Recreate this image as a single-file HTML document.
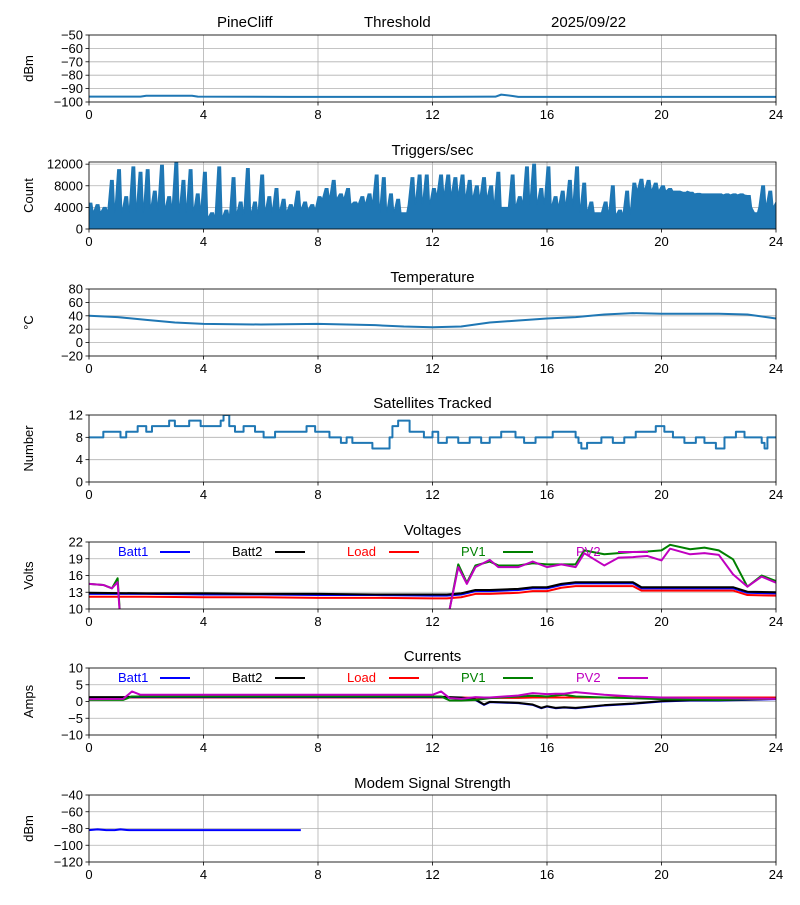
<!DOCTYPE html>
<html><head><meta charset="utf-8"><style>
body{margin:0;background:#fff;}
svg text{font-family:"Liberation Sans","DejaVu Sans",sans-serif;}
</style></head><body>
<svg id="c" width="800" height="900" xmlns="http://www.w3.org/2000/svg">
<text x="217" y="27" font-size="15">PineCliff</text>
<text x="364" y="27" font-size="15">Threshold</text>
<text x="551" y="27" font-size="15">2025/09/22</text>
</svg>
<script>
const xTicks=[0,4,8,12,16,20,24];
// Threshold
const thrT=[0,1.8,2.0,3.6,3.8,7,12,14.2,14.4,14.8,15,24];
const thrV=[-96,-96,-95.3,-95.3,-96,-96.2,-96.2,-96,-94.5,-95.5,-96.2,-96.2];
// Triggers (peak per 15 min, base per hour)
const trigPeak=[4800,4500,4000,9000,11000,6000,11500,10500,11000,7000,11800,6000,12300,9000,11000,6500,10500,3000,11500,3500,9500,5000,11200,5000,10000,6000,7500,5500,4500,7000,5000,4500,6000,7500,9000,6500,7500,5000,6000,6500,10000,9500,6500,5500,3000,9500,10000,10000,7500,10000,10000,9500,10000,9000,8000,9500,8000,10500,4000,10000,6000,11500,12000,7500,11500,6000,7000,9000,11500,8500,5000,3000,5000,8000,3500,7000,8500,9200,9000,8500,8000,7500,7000,6800,6800,6600,6500,6500,6500,6500,6500,6500,6200,3000,8000,7000,5000];
const trigBase=[3000,3000,3500,3000,2000,2500,3000,3500,5500,4500,3000,4500,6000,5500,4000,4500,4000,3000,2500,7000,7000,6500,6300,4000,4000];
// Temperature
const tempT=[0,1,2,3,4,6,8,9,10,11,12,13,14,15,16,17,18,19,20,22,23,24];
const tempV=[40,38,34,30,28,27,28,27,26,24,23,24,30,33,36,38,42,44,43,43,42,36];
// Satellites (step)
const satT=[0,0.5,1.1,1.3,1.7,2.0,2.2,2.8,3.0,3.5,3.9,4.6,4.7,4.9,5.1,5.4,5.8,6.1,6.5,7.6,7.9,8.4,8.8,9,9.2,9.9,10.5,10.6,10.8,11.2,11.7,12.0,12.2,12.5,12.9,13.3,13.7,14.0,14.4,14.9,15.2,15.6,16.2,17.0,17.1,17.2,17.4,17.9,18.3,18.7,19.1,19.8,20.1,20.4,20.8,21.2,21.5,21.9,22.2,22.6,22.9,23.5,23.6,23.7,24];
const satV=[8,9,8,9,10,9,10,11,10,11,10,11,12,10,9,10,9,8,9,10,9,8,7,8,7,6,8,10,11,9,8,9,7,8,7,8,7,8,9,8,7,8,9,8,7,6,7,8,7,8,9,10,9,8,7,8,7,6,8,9,8,7,6,8,8];
// Voltages
const vbT=[0,2,4,6,8,10,12,12.5,13,13.5,14,15,15.5,16,16.5,17,18,19,19.3,20,22,22.5,23,24];
const batt1V=[12.7,12.7,12.6,12.6,12.5,12.5,12.4,12.4,12.6,13.2,13.2,13.4,13.7,13.7,14.3,14.6,14.6,14.6,13.7,13.7,13.7,13.7,12.9,12.8];
const batt2V=[12.9,12.8,12.8,12.7,12.7,12.6,12.6,12.6,12.8,13.4,13.4,13.6,13.9,13.9,14.5,14.8,14.8,14.8,13.9,13.9,13.9,13.9,13.1,13.0];
const loadV=[12.2,12.2,12.1,12.1,12.0,12.0,11.9,11.9,12.1,12.7,12.7,12.9,13.2,13.2,13.8,14.1,14.1,14.1,13.3,13.3,13.3,13.3,12.5,12.4];
const pvT=[0,0.5,0.8,1.0,1.2,12.3,12.6,12.9,13.2,13.5,14,14.3,15,15.5,16,16.5,17,17.3,18,18.5,19,19.5,20,20.3,21,21.5,22,22.5,23,23.5,24];
const pv1V=[14.5,14.3,13.7,15.5,0,0,10,18,14.7,17.8,18.5,17.8,17.8,18.2,18,18,18,20.5,19.8,20,20.2,20.3,20.5,21.5,20.7,21,20.5,18.9,14,16,15];
const pv2V=[14.5,14.3,13.7,14.8,0,0,10,17.5,14.5,17.5,18.8,17.5,17.5,18.5,17.5,18,17.5,20,17.8,19.2,19.3,19.5,18.7,20.8,19.8,20,19.7,16.2,14,15.8,14.7];
// Currents
const cT=[0,1.2,1.5,1.8,4,8,12,12.3,12.6,13,13.5,13.8,14,15,15.5,15.8,16,16.3,16.6,17,18,19,20,21,22,23,24];
const batt1C=[1.2,1.2,1.3,1.3,1.3,1.3,1.3,1.3,1.2,1.1,0.5,-1,-0.2,-0.5,-1,-2,-1.5,-2,-1.8,-2,-1.2,-0.7,0,0.3,0.3,0.5,0.7];
const batt2C=[1.3,1.3,1.4,1.4,1.4,1.4,1.4,1.4,1.3,1.2,0.6,-0.9,-0.1,-0.4,-0.9,-1.9,-1.4,-1.9,-1.7,-1.9,-1.1,-0.6,0.1,0.4,0.4,0.6,0.8];
const loadC=[1.2,1.2,1.2,1.2,1.2,1.2,1.2,1.2,1.2,1.2,1.1,1.1,1.1,1.1,1.2,1.2,1.2,1.2,1.2,1.2,1.2,1.2,1.2,1.2,1.2,1.2,1.2];
const pv1C=[0.5,0.5,1.5,1.5,1.5,1.5,1.5,1.5,0.3,0.3,0.5,0.8,1.0,1.5,1.7,1.6,1.5,1.8,2,1.5,1.2,1.0,0.7,0.6,0.5,0.7,0.8];
const pv2C=[0.7,0.8,3,2,2,2,2,3,1,0.8,1.3,1.2,1.2,1.8,2.5,2.3,2.2,2.3,2.3,2.8,2,1.5,1.2,1.1,1.0,0.9,0.8];
// Modem
const modT=[0,0.3,0.6,0.9,1.1,1.4,2,4,6,7.4];
const modV=[-82,-81,-82,-82,-81,-82,-82,-82,-82,-82];

const svg=document.getElementById('c');
const NS='http://www.w3.org/2000/svg';
const L=89,R=776,H=67;
function mk(tag,attrs,parent){const e=document.createElementNS(NS,tag);for(const k in attrs)e.setAttribute(k,attrs[k]);(parent||svg).appendChild(e);return e;}
function X(h){return L+h*(R-L)/24;}
function panel(name,top,ymin,ymax,yticks,title,ylabel){
  const g=mk('g',{});
  
  
  const Y=v=>top+H-(v-ymin)/(ymax-ymin)*H;
  const gridG=mk('g',{},g);
  
  
  xTicks.forEach(t=>{mk('line',{x1:X(t),x2:X(t),y1:top,y2:top+H,stroke:'#b0b0b0','stroke-width':0.8},gridG);
    mk('line',{x1:X(t),x2:X(t),y1:top+H,y2:top+H+3.5,stroke:'#000','stroke-width':0.8},g);
    const tx=mk('text',{x:X(t),y:top+H+17,'font-size':13,'text-anchor':'middle'},g);tx.textContent=t;
    
    });
  yticks.forEach(t=>{const y=Y(t);mk('line',{x1:L,x2:R,y1:y,y2:y,stroke:'#b0b0b0','stroke-width':0.8},gridG);
    mk('line',{x1:L-3.5,x2:L,y1:y,y2:y,stroke:'#000','stroke-width':0.8},g);
    const tx=mk('text',{x:L-6,y:y+4.5,'font-size':13,'text-anchor':'end'},g);tx.textContent=String(t).replace('-','\u2212');
    
    });
  const clipId='clip-'+name;
  const cp=mk('clipPath',{id:clipId},g);mk('rect',{x:L,y:top,width:R-L,height:H},cp);
  const plot=mk('g',{'clip-path':'url(#'+clipId+')'},g);
  
  
  const fr=mk('rect',{x:L,y:top,width:R-L,height:H,fill:'none',stroke:'#000','stroke-width':0.8},g);
  
  
  if(title){const tt=mk('text',{x:(L+R)/2,y:top-7,'font-size':15,'text-anchor':'middle'},g);tt.textContent=title;
    
    }
  const yl=mk('text',{x:0,y:0,'font-size':13,'text-anchor':'middle',transform:`translate(33,${top+H/2}) rotate(-90)`},g);yl.textContent=ylabel;
  
  
  return {Y,plot,g};
}
function line(p,ts,vs,color,w,nm,step){
  let d='';
  ts.forEach((t,i)=>{const x=X(t),y=p.Y(vs[i]);
    if(i===0)d+=`M${x},${y}`;else if(step)d+=`H${x}V${y}`;else d+=`L${x},${y}`;});
  const e=mk('path',{d,fill:'none',stroke:color,'stroke-width':w,'stroke-linejoin':'round'},p.plot);
  
  
}
function legend(p,top){
  const items=[['Batt1','#0000ff',118,160],['Batt2','#000',232,275],['Load','#ff0000',347,389],['PV1','#008000',461,503],['PV2','#c000c0',576,618]];
  items.forEach(it=>{const t=mk('text',{x:it[2],y:top+14,'font-size':13,fill:it[1]},p.g);t.textContent=it[0];
    
    
    mk('line',{x1:it[3],x2:it[3]+30,y1:top+10,y2:top+10,stroke:it[1],'stroke-width':2},p.g);});
}
const tops=[35,162,289,415,542,668,795];
const blue='#1f77b4';
// 1 threshold
let p=panel('threshold',tops[0],-100,-50,[-50,-60,-70,-80,-90,-100],null,'dBm');
line(p,thrT,thrV,blue,2,'threshold-line');
// 2 triggers
p=panel('triggers',tops[1],0,12400,[0,4000,8000,12000],'Triggers/sec','Count');
{let d=`M${X(0)},${p.Y(0)}`;const n=trigPeak.length-1;const st=24/n;
 trigPeak.forEach((v,i)=>{const h=i*st;d+=`L${X(h)},${p.Y(v)}`;
   if(i<n){d+=`L${X(h+st*0.4)},${p.Y(v)}`;const hm=h+st*0.6;d+=`L${X(hm)},${p.Y(trigBase[Math.floor(hm)])}`;}});
 d+=`L${X(24)},${p.Y(0)}Z`;
 const e=mk('path',{d,fill:blue,stroke:blue,'stroke-width':1},p.plot);
 
 }
// 3 temperature
p=panel('temperature',tops[2],-20,80,[80,60,40,20,0,-20],'Temperature','\u00b0C');
line(p,tempT,tempV,blue,2,'temperature-line');
// 4 satellites
p=panel('satellites',tops[3],0,12,[12,8,4,0],'Satellites Tracked','Number');
line(p,satT,satV,blue,2,'satellites-line',true);
// 5 voltages
p=panel('voltages',tops[4],10,22,[22,19,16,13,10],'Voltages','Volts');
line(p,vbT,batt1V,'#0000ff',2,'batt1-voltage-line');
line(p,vbT,loadV,'#ff0000',2,'load-voltage-line');
line(p,vbT,batt2V,'#000',2,'batt2-voltage-line');
line(p,pvT,pv1V,'#008000',2,'pv1-voltage-line');
line(p,pvT,pv2V,'#c000c0',2,'pv2-voltage-line');
legend(p,tops[4]);
// 6 currents
p=panel('currents',tops[5],-10,10,[10,5,0,-5,-10],'Currents','Amps');
line(p,cT,loadC,'#ff0000',2,'load-current-line');
line(p,cT,batt1C,'#0000ff',2,'batt1-current-line');
line(p,cT,batt2C,'#000',2,'batt2-current-line');
line(p,cT,pv1C,'#008000',2,'pv1-current-line');
line(p,cT,pv2C,'#c000c0',2,'pv2-current-line');
legend(p,tops[5]);
// 7 modem
p=panel('modem',tops[6],-120,-40,[-40,-60,-80,-100,-120],'Modem Signal Strength','dBm');
line(p,modT,modV,'#0000ff',2,'modem-signal-line');
</script>
</body></html>
